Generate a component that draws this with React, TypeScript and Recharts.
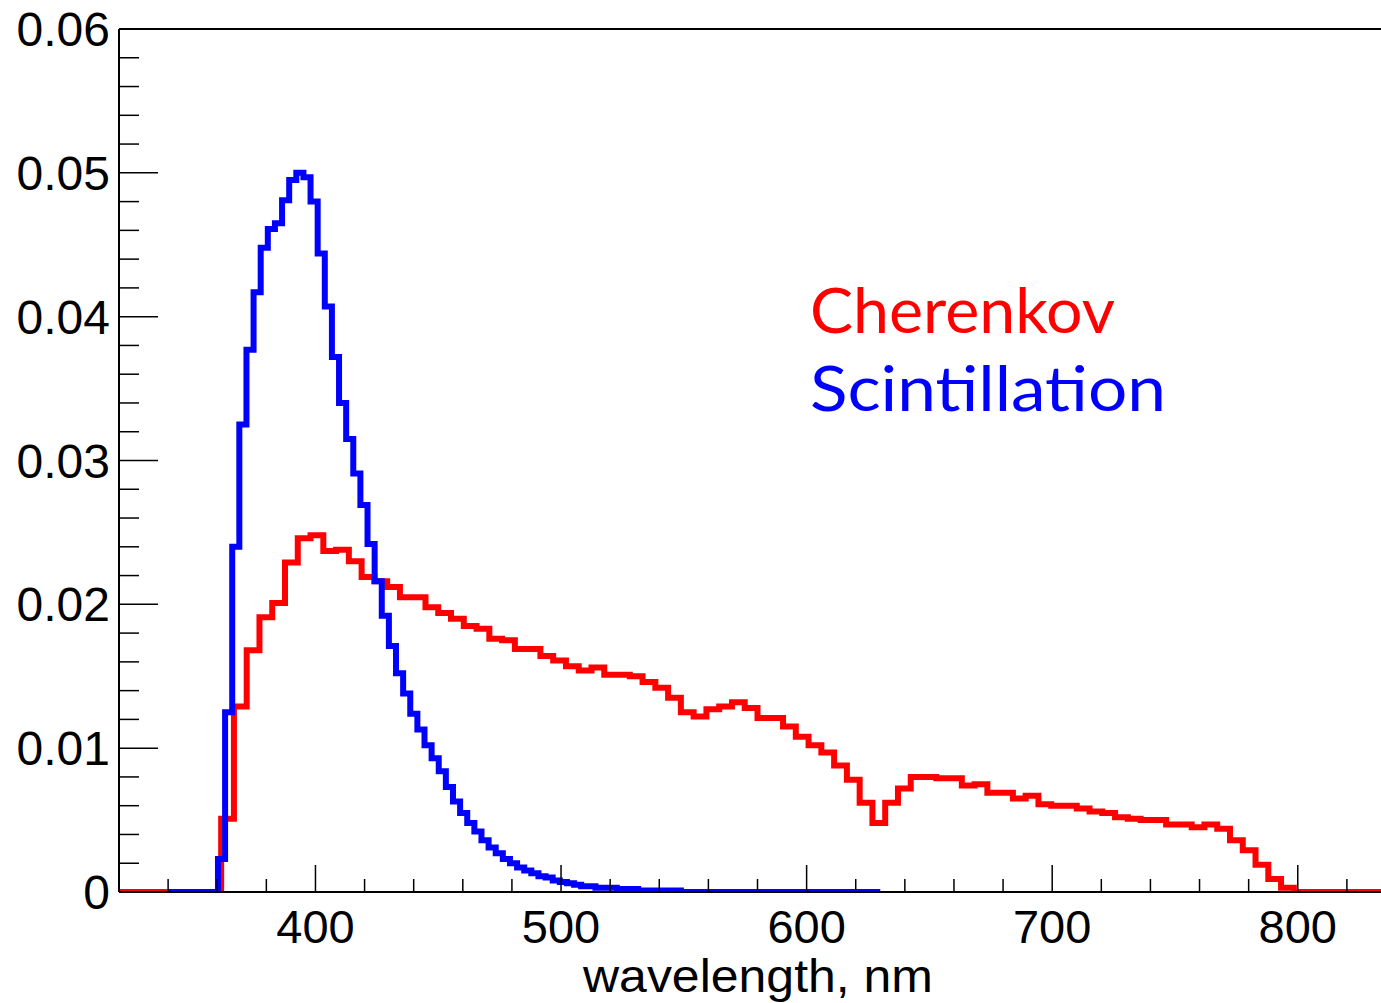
import React from 'react'
import { LineChart, Line, XAxis, YAxis, ReferenceLine } from 'recharts'

// Cherenkov histogram: 100 bins of 5.2 nm starting at 320 nm
const CHER_START = 320
const CHER_BIN = 5.2
const cherenkov = [
  0, 0, 0, 0, 0, 0, 0, 0,
  0.0051, 0.0129, 0.0168, 0.0191, 0.0201, 0.0229, 0.0246, 0.0248, 0.0237, 0.0238,
  0.0230, 0.0219, 0.0216, 0.0212, 0.0205, 0.0205, 0.0198, 0.0194, 0.0190, 0.0185,
  0.0183, 0.0176, 0.0175, 0.0169, 0.0169, 0.0164, 0.0161, 0.0157, 0.0154, 0.0156,
  0.0151, 0.0151, 0.0150, 0.0146, 0.0142, 0.0135, 0.0125, 0.0122, 0.0127, 0.0129,
  0.0132, 0.0128, 0.0121, 0.0121, 0.0115, 0.0108, 0.0102, 0.0097, 0.0088, 0.0078,
  0.0062, 0.0048, 0.0062, 0.0072, 0.0080, 0.0080, 0.0079, 0.0079, 0.0074, 0.0075,
  0.0069, 0.0069, 0.0065, 0.0067, 0.0061, 0.0060, 0.0060, 0.0058, 0.0056, 0.0055,
  0.0052, 0.0051, 0.0050, 0.0050, 0.0047, 0.0047, 0.0045, 0.0047, 0.0044, 0.0036,
  0.0029, 0.0019, 0.0009, 0.0003,
  0, 0, 0, 0, 0, 0, 0, 0,
]

// Scintillation histogram: 100 bins of 2.9 nm starting at 340 nm
const SCINT_START = 340
const SCINT_BIN = 2.9
const scintillation = [
  0, 0, 0, 0, 0, 0, 0,
  0.0023, 0.0125, 0.0240, 0.0325, 0.0377, 0.0417, 0.0448, 0.0461, 0.0465, 0.0481,
  0.0495, 0.0500, 0.0497, 0.0480, 0.0444, 0.0407, 0.0372, 0.0340, 0.0315, 0.0291,
  0.0269, 0.0242, 0.0216, 0.0192, 0.0171, 0.0152, 0.0138, 0.0124, 0.0113, 0.0102,
  0.0093, 0.0084, 0.0073, 0.0063, 0.0055, 0.0048, 0.0042, 0.0036, 0.0031, 0.0027,
  0.0023, 0.0020, 0.0017, 0.0015, 0.0013, 0.0011, 0.0010, 0.0008, 0.0007, 0.0006,
  0.0005, 0.0004, 0.0004, 0.0003, 0.0003, 0.0003, 0.0002, 0.0002, 0.0002, 0.0001,
  0.0001, 0.0001, 0.0001, 0.0001, 0.0001,
  0, 0, 0, 0, 0, 0, 0, 0, 0, 0, 0, 0, 0, 0,
  0, 0, 0, 0, 0, 0, 0, 0, 0, 0, 0, 0, 0, 0,
]

const xTicks = [
  320, 340, 360, 380, 400, 420, 440, 460, 480, 500, 520, 540, 560, 580, 600,
  620, 640, 660, 680, 700, 720, 740, 760, 780, 800, 820, 840,
]
const xMajor = [400, 500, 600, 700, 800]

const yTicks = [
  0, 0.002, 0.004, 0.006, 0.008, 0.01, 0.012, 0.014, 0.016, 0.018, 0.02,
  0.022, 0.024, 0.026, 0.028, 0.03, 0.032, 0.034, 0.036, 0.038, 0.04,
  0.042, 0.044, 0.046, 0.048, 0.05, 0.052, 0.054, 0.056, 0.058, 0.06,
]
const yMajor = [0, 0.01, 0.02, 0.03, 0.04, 0.05, 0.06]

const toSteps = (values: number[], start: number, bin: number) => {
  const pts = values.map((y, i) => ({ x: start + i * bin, y }))
  pts.push({ x: start + values.length * bin, y: values[values.length - 1] })
  return pts
}

const cherData = toSteps(cherenkov, CHER_START, CHER_BIN)
const scintData = toSteps(scintillation, SCINT_START, SCINT_BIN)

const AXIS_FONT = '"Liberation Sans", Arial, sans-serif'
const LEGEND_FONT = '"Comic Sans MS", Lato, sans-serif'

function XTick(props: any) {
  const { x, y, payload } = props
  const major = xMajor.includes(payload.value)
  return (
    <g>
      <line x1={x} y1={y} x2={x} y2={y - (major ? 27 : 13)} stroke="#000" strokeWidth={1.5} />
      {major && (
        <text x={x} y={y + 51} textAnchor="middle" fontSize={47} fontFamily={AXIS_FONT} fill="#000">
          {payload.value}
        </text>
      )}
    </g>
  )
}

function YTick(props: any) {
  const { x, y, payload } = props
  const major = yMajor.some((m) => Math.abs(m - payload.value) < 1e-9)
  return (
    <g>
      <line x1={x} y1={y} x2={x + (major ? 39 : 20)} y2={y} stroke="#000" strokeWidth={1.5} />
      {major && (
        <text x={x - 9} y={y + 17} textAnchor="end" fontSize={48} fontFamily={AXIS_FONT} fill="#000">
          {payload.value}
        </text>
      )}
    </g>
  )
}

export default function App() {
  return (
    <div
      style={{
        position: 'fixed',
        left: 0,
        top: 0,
        width: 1381,
        height: 1003,
        overflow: 'hidden',
        background: '#fff',
      }}
    >
      <LineChart width={1420} height={1003} margin={{ top: 29, right: 24, bottom: 0, left: 0 }}>
        <XAxis
          type="number"
          dataKey="x"
          domain={[320, 840]}
          ticks={xTicks}
          interval={0}
          tickSize={0}
          tickMargin={0}
          tickLine={false}
          tick={(p: any) => <XTick {...p} />}
          height={111}
          axisLine={{ stroke: '#000', strokeWidth: 2 }}
          allowDataOverflow
        />
        <YAxis
          type="number"
          dataKey="y"
          domain={[0, 0.06]}
          ticks={yTicks}
          interval={0}
          tickSize={0}
          tickMargin={0}
          tickLine={false}
          tick={(p: any) => <YTick {...p} />}
          width={119}
          axisLine={{ stroke: '#000', strokeWidth: 2 }}
          allowDataOverflow
        />
        <ReferenceLine y={0.06} stroke="#000" strokeWidth={2} />
        <Line
          data={cherData}
          dataKey="y"
          type="stepAfter"
          stroke="#ff0000"
          strokeWidth={6}
          dot={false}
          activeDot={false}
          isAnimationActive={false}
        />
        <Line
          data={scintData}
          dataKey="y"
          type="stepAfter"
          stroke="#0000ff"
          strokeWidth={6}
          dot={false}
          activeDot={false}
          isAnimationActive={false}
        />
      </LineChart>
      <svg
        width={1381}
        height={1003}
        style={{ position: 'absolute', left: 0, top: 0, pointerEvents: 'none' }}
      >
        <text x={583} y={992} fontSize={46} fontFamily={AXIS_FONT} fill="#000" textLength={350} lengthAdjust="spacingAndGlyphs">
          wavelength, nm
        </text>
        <text x={810} y={333} fontSize={62} fontFamily={LEGEND_FONT} fill="#ff0000" textLength={305} lengthAdjust="spacingAndGlyphs">
          Cherenkov
        </text>
        <text x={810} y={411} fontSize={62} fontFamily={LEGEND_FONT} fill="#0000ff" textLength={356} lengthAdjust="spacingAndGlyphs">
          Scintillation
        </text>
      </svg>
    </div>
  )
}
